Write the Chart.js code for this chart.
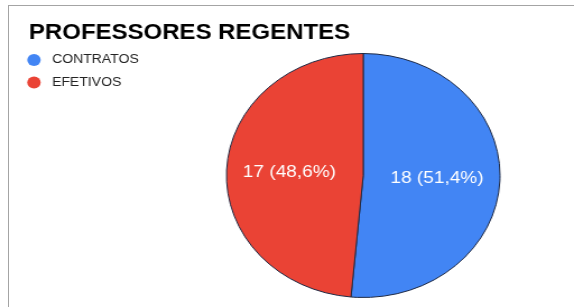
<!DOCTYPE html>
<html>
<head>
<meta charset="utf-8">
<script src="https://cdn.jsdelivr.net/npm/chart.js@4.4.1/dist/chart.umd.min.js"></script>
<style>
  html, body { margin: 0; padding: 0; background: #fff; }
  #wrap { position: relative; width: 574px; height: 307px; overflow: hidden; }
  #frame { position: absolute; left: 8px; top: 5px; right: -2px; bottom: -2px;
           border-top: 1px solid #a4a4a4; border-left: 1px solid #a4a4a4; }
  #stretch { position: absolute; left: 0; top: 0; width: 512px; height: 307px;
             transform: scaleX(1.1211); transform-origin: 0 0; }
</style>
</head>
<body>
<div id="wrap">
  <div id="frame"></div>
  <div id="stretch">
    <canvas id="chart" width="512" height="307" style="width:512px;height:307px"></canvas>
  </div>
</div>
<script>
(function () {
    "use strict";

    const chartTitle = 'PROFESSORES REGENTES';
    const categories = ['CONTRATOS', 'EFETIVOS'];
    const values = [18, 17];
    const sliceColors = ['#4285f4', '#ea4335'];

    const FONT = '"Liberation Sans", Arial, sans-serif';

    function pctLabel(v, total) {
        return v + ' (' + (v / total * 100).toFixed(1).replace('.', ',') + '%)';
    }

    // title + legend in the top-left corner, like the Sheets chart
    const headerPlugin = {
        id: 'header',
        afterDraw(chart) {
            const ctx = chart.ctx;
            ctx.save();
            ctx.fillStyle = '#000';
            ctx.font = 'bold 21.4px ' + FONT;
            ctx.textAlign = 'left';
            ctx.textBaseline = 'alphabetic';
            ctx.fillText(chartTitle, 25.8, 38.8);

            ctx.font = '12.5px ' + FONT;
            ctx.textBaseline = 'middle';
            chart.data.labels.forEach((label, i) => {
                const y = 60 + i * 22.5;
                ctx.fillStyle = chart.data.datasets[0].backgroundColor[i];
                ctx.beginPath();
                ctx.arc(30.3, y, 6, 0, Math.PI * 2);
                ctx.fill();
                ctx.fillStyle = '#222';
                ctx.fillText(label, 46.4, y);
            });
            ctx.restore();
        }
    };

    // "18 (51,4%)" labels inside the slices
    const sliceLabelPlugin = {
        id: 'sliceLabels',
        afterDatasetsDraw(chart) {
            const meta = chart.getDatasetMeta(0);
            const data = chart.data.datasets[0].data;
            const total = data.reduce((a, b) => a + b, 0);
            const ctx = chart.ctx;
            ctx.save();
            ctx.font = '17px ' + FONT;
            ctx.fillStyle = '#fff';
            ctx.textAlign = 'center';
            ctx.textBaseline = 'middle';
            meta.data.forEach((arc, i) => {
                const p = arc.getProps(['x', 'y', 'startAngle', 'endAngle', 'outerRadius'], true);
                const mid = (p.startAngle + p.endAngle) / 2;
                const r = p.outerRadius * 0.54;
                ctx.fillText(pctLabel(data[i], total), p.x + Math.cos(mid) * r, p.y + Math.sin(mid) * r);
            });
            ctx.restore();
        }
    };

    function initChart() {
        const ctx = document.getElementById('chart').getContext('2d');
        new Chart(ctx, {
            type: 'pie',
            data: {
                labels: categories,
                datasets: [{
                    data: values,
                    backgroundColor: sliceColors,
                    borderColor: '#1f2a44',
                    borderWidth: 1
                }]
            },
            options: {
                responsive: false,
                animation: false,
                layout: {
                    padding: { top: 53, bottom: 9, left: 174, right: 38 }
                },
                plugins: {
                    legend: { display: false },
                    title: { display: false },
                    tooltip: { enabled: false }
                }
            },
            plugins: [headerPlugin, sliceLabelPlugin]
        });
    }

    document.addEventListener('DOMContentLoaded', initChart);
})();
</script>
</body>
</html>
